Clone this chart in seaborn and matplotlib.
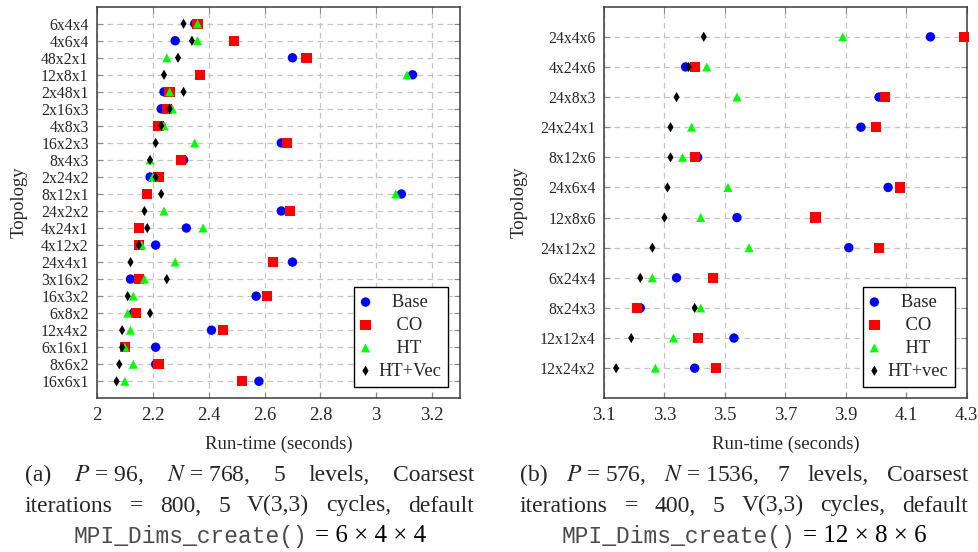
import matplotlib
matplotlib.use("Agg")
import matplotlib.pyplot as plt
import matplotlib.ticker as mticker
import numpy as np
import pandas as pd
import seaborn as sns

sns.set_style("white")
plt.rcParams['font.family'] = ['Liberation Serif', 'DejaVu Serif']
plt.rcParams['mathtext.fontset'] = 'stix'

# ---------------- data ----------------
left_topologies = ["6x4x4", "4x6x4", "48x2x1", "12x8x1", "2x48x1", "2x16x3", "4x8x3",
                   "16x2x3", "8x4x3", "2x24x2", "8x12x1", "24x2x2", "4x24x1", "4x12x2",
                   "24x4x1", "3x16x2", "16x3x2", "6x8x2", "12x4x2", "6x16x1", "8x6x2",
                   "16x6x1"]
left_base = [2.35, 2.28, 2.70, 3.13, 2.24, 2.23, 2.23, 2.66, 2.31, 2.19, 3.09, 2.66,
             2.32, 2.21, 2.70, 2.12, 2.57, 2.13, 2.41, 2.21, 2.21, 2.58]
left_co = [2.36, 2.49, 2.75, 2.37, 2.26, 2.25, 2.22, 2.68, 2.30, 2.22, 2.18, 2.69,
           2.15, 2.15, 2.63, 2.15, 2.61, 2.14, 2.45, 2.10, 2.22, 2.52]
left_ht = [2.36, 2.36, 2.25, 3.11, 2.26, 2.27, 2.24, 2.35, 2.19, 2.20, 3.07, 2.24,
           2.38, 2.16, 2.28, 2.17, 2.13, 2.11, 2.12, 2.10, 2.13, 2.10]
left_htvec = [2.31, 2.34, 2.29, 2.24, 2.31, 2.26, 2.23, 2.21, 2.19, 2.21, 2.23, 2.17,
              2.18, 2.15, 2.12, 2.25, 2.11, 2.19, 2.09, 2.09, 2.08, 2.07]

right_topologies = ["24x4x6", "4x24x6", "24x8x3", "24x24x1", "8x12x6", "24x6x4",
                    "12x8x6", "24x12x2", "6x24x4", "8x24x3", "12x12x4", "12x24x2"]
right_base = [4.18, 3.37, 4.01, 3.95, 3.41, 4.04, 3.54, 3.91, 3.34, 3.22, 3.53, 3.40]
right_co = [4.29, 3.40, 4.03, 4.00, 3.40, 4.08, 3.80, 4.01, 3.46, 3.21, 3.41, 3.47]
right_ht = [3.89, 3.44, 3.54, 3.39, 3.36, 3.51, 3.42, 3.58, 3.26, 3.42, 3.33, 3.27]
right_htvec = [3.43, 3.38, 3.34, 3.32, 3.32, 3.31, 3.30, 3.26, 3.22, 3.40, 3.19, 3.14]

left_labels = ["Base", "CO", "HT", "HT+Vec"]
right_labels = ["Base", "CO", "HT", "HT+vec"]
left_xticks = [2, 2.2, 2.4, 2.6, 2.8, 3.0, 3.2]
right_xticks = [3.1, 3.3, 3.5, 3.7, 3.9, 4.1, 4.3]

# ---------------- styles ----------------
colors = ["#0000ff", "#ff0000", "#00ff00", "#000000"]
markers = ["o", "s", "^", "d"]
sizes = [46, 55, 42, 27]
# leading spaces to centre the legend labels like the reference
label_pad = [3, 4, 4, 0]

W, H = 979, 552
fig = plt.figure(figsize=(W / 100, H / 100), dpi=100)


def px_axes(x0, x1, y0, y1):
    return fig.add_axes([x0 / W, 1 - y1 / H, (x1 - x0) / W, (y1 - y0) / H])


ax1 = px_axes(97, 460, 6.7, 398.3)
ax2 = px_axes(604, 966.7, 6.7, 398.3)


def draw_panel(ax, topologies, series, labels, xticks, xlim, ylab_x):
    for vals, lab, c, m, s, pad in zip(series, labels, colors, markers, sizes, label_pad):
        df = pd.DataFrame({"Run-time": vals, "Topology": topologies})
        sns.scatterplot(data=df, x="Run-time", y="Topology", ax=ax, color=c, marker=m,
                        s=s, linewidth=0, edgecolor="none", label=" " * pad + lab,
                        zorder=3, clip_on=False)
    n = len(topologies)
    ax.set_ylim(n, -1)
    ax.set_xlim(*xlim)
    ax.set_xticks(xticks)
    ax.xaxis.set_major_formatter(mticker.FuncFormatter(lambda v, p: f"{v:g}"))
    ax.grid(True, linestyle=(0, (4.5, 3.5)), color="#c4c4c4", linewidth=0.9)
    ax.set_axisbelow(True)
    for sp in ax.spines.values():
        sp.set_color("#3a3a3a")
        sp.set_linewidth(1.1)
        sp.set_visible(True)
    ax.tick_params(axis="both", direction="in", length=4, width=0.8, color="#888888",
                   top=True, right=True, left=True, bottom=True)
    ax.tick_params(axis="x", labelsize=13.4, pad=6)
    ax.tick_params(axis="y", labelsize=11.3, pad=6)
    ax.set_xlabel("Run-time (seconds)", fontsize=13.5)
    ax.set_ylabel("Topology", fontsize=13.5)
    ax.xaxis.set_label_coords(0.5, -0.096)
    ax.yaxis.set_label_coords(ylab_x, 0.5)
    leg = ax.legend(loc="lower right", bbox_to_anchor=(1, 0), borderaxespad=0.63,
                    frameon=True, fancybox=False, edgecolor="black", framealpha=1,
                    fontsize=13.3, handlelength=0.5, handletextpad=0.45,
                    labelspacing=0.32, borderpad=0.38, scatterpoints=1)
    leg.get_frame().set_linewidth(1.0)
    return leg


leg1 = draw_panel(ax1, left_topologies, [left_base, left_co, left_ht, left_htvec],
                  left_labels, left_xticks, (2.0, 3.3), -0.192)
leg2 = draw_panel(ax2, right_topologies, [right_base, right_co, right_ht, right_htvec],
                  right_labels, right_xticks, (3.1, 4.3), -0.2115)

fig.canvas.draw()
r = fig.canvas.get_renderer()


# ---------------- captions ----------------
def place_justified(words, x0, x1, y_base, size):
    ts = [fig.text(0, 1 - y_base / H, w, fontsize=size, va="baseline", ha="left")
          for w in words]
    widths = [t.get_window_extent(r).width for t in ts]
    gap = ((x1 - x0) - sum(widths)) / (len(ts) - 1)
    x = x0
    for t, w in zip(ts, widths):
        t.set_x(x / W)
        x += w + gap


def place_centered(parts, cx, y_base, gap=8):
    ts = []
    for txt, fam, size, col in parts:
        ts.append(fig.text(0, 1 - y_base / H, txt, fontsize=size, family=fam,
                           color=col, va="baseline", ha="left"))
    widths = [t.get_window_extent(r).width for t in ts]
    total = sum(widths) + gap * (len(ts) - 1)
    x = cx - total / 2
    for t, w in zip(ts, widths):
        t.set_x(x / W)
        x += w + gap


cap_size = 17
mono = ["Liberation Mono", "DejaVu Sans Mono"]
y1, y2, y3 = 481, 511.5, 542.5
place_justified(["(a)", "$P$ = 96,", "$N$ = 768,", "5", "levels,", "Coarsest"], 25, 474, y1, cap_size)
place_justified(["iterations", "=", "800,", "5", "V(3,3)", "cycles,", "default"], 25, 474, y2, cap_size)
place_centered([("MPI_Dims_create()", mono, 16.5, "#4a4a4a"),
                ("= 6 \u00d7 4 \u00d7 4", ["Liberation Serif"], 18, "black")], 250, y3)

place_justified(["(b)", "$P$ = 576,", "$N$ = 1536,", "7", "levels,", "Coarsest"], 520, 968, y1, cap_size)
place_justified(["iterations", "=", "400,", "5", "V(3,3)", "cycles,", "default"], 520, 968, y2, cap_size)
place_centered([("MPI_Dims_create()", mono, 16.5, "#4a4a4a"),
                ("= 12 \u00d7 8 \u00d7 6", ["Liberation Serif"], 18, "black")], 744, y3)

fig.savefig("out.png", dpi=100)
